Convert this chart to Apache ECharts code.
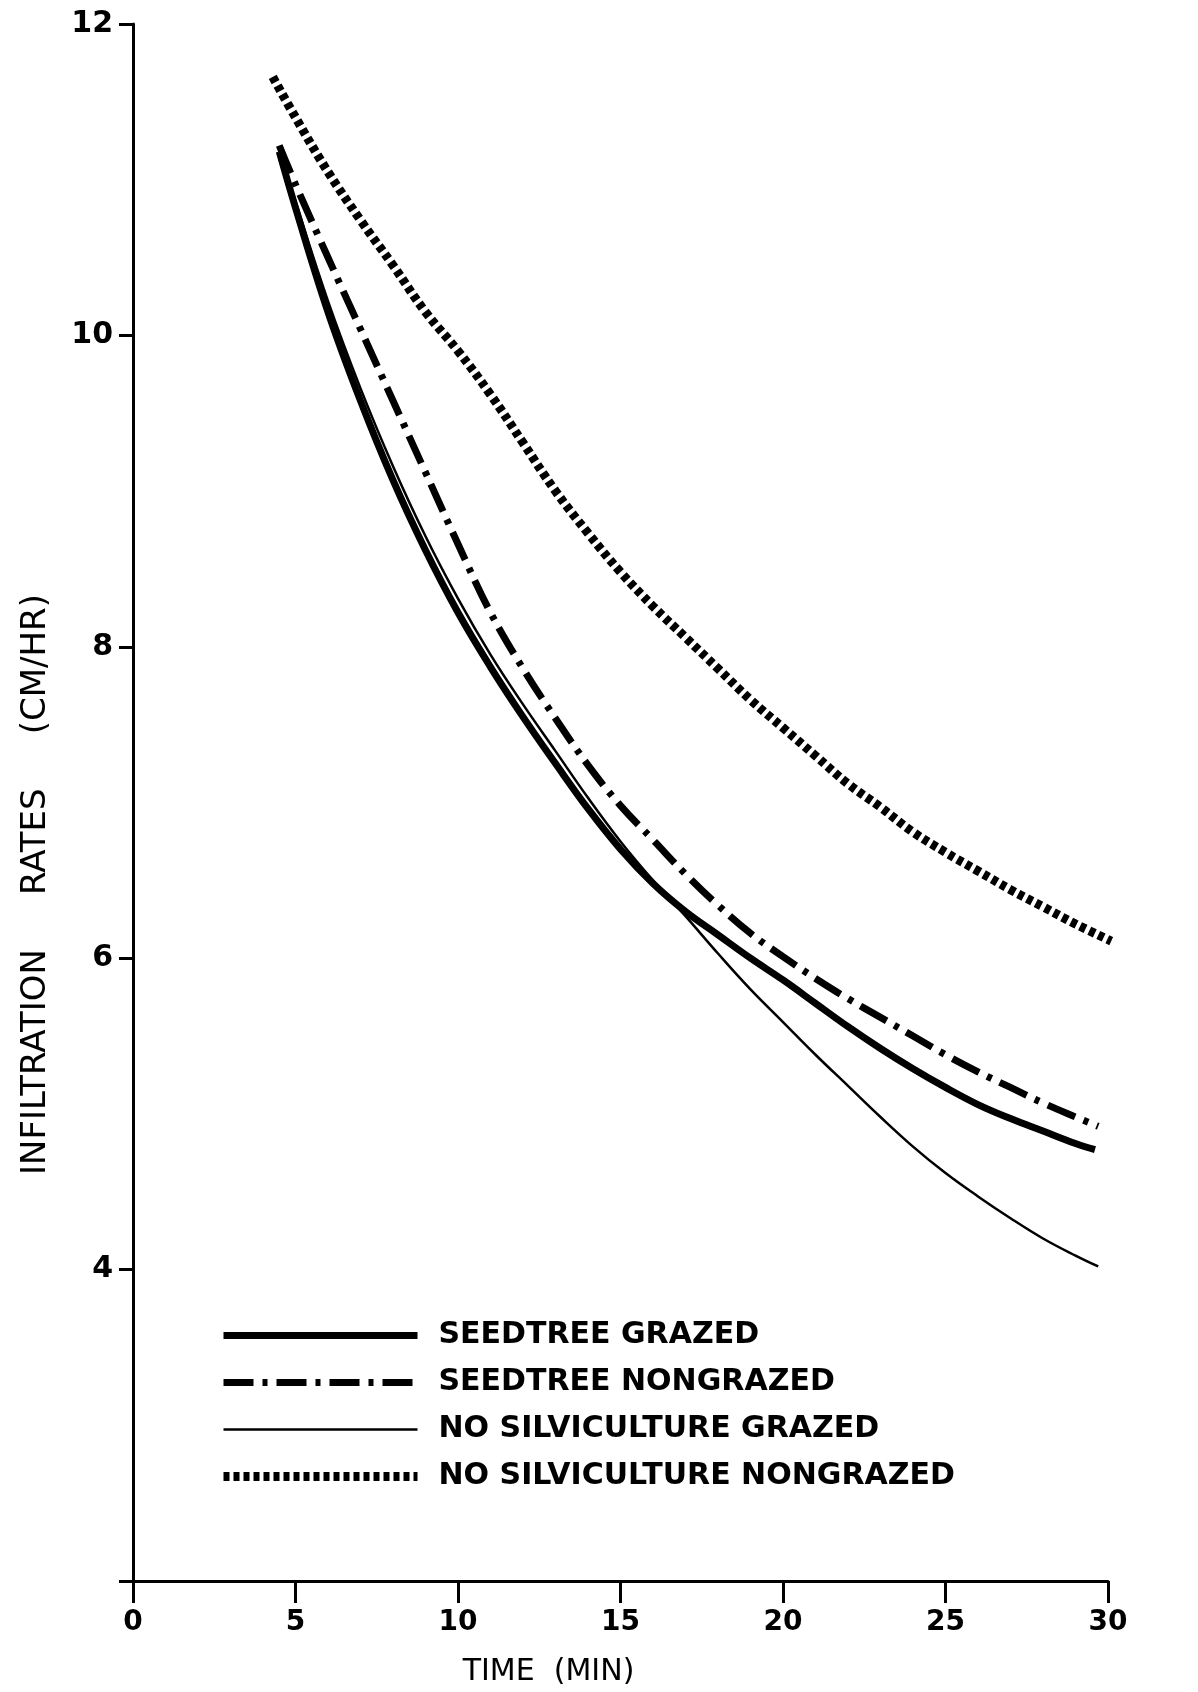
<!DOCTYPE html>
<html>
<head>
<meta charset="utf-8">
<script src="https://cdn.jsdelivr.net/npm/echarts@6/dist/echarts.min.js"></script>
<style>
  html, body { margin: 0; padding: 0; background: #fff; }
  #chart { width: 1198px; height: 1692px; }
</style>
</head>
<body>
<div id="chart"></div>
<script>
// Series names (legend order)
const seriesNames = [
  'SEEDTREE GRAZED',
  'SEEDTREE NONGRAZED',
  'NO SILVICULTURE GRAZED',
  'NO SILVICULTURE NONGRAZED'
];

// Time (min) values for each curve
const xSeedGrazed    = [4.5, 5, 6, 7, 8, 9, 10, 11, 12, 13, 14, 15, 16, 17, 18, 19, 20, 21, 22, 23, 24, 25, 26, 27, 28, 29, 29.6];
const xSeedNongrazed = [4.5, 5, 6, 7, 8, 9, 10, 11, 12, 13, 14, 15, 16, 17, 18, 19, 20, 21, 22, 23, 24, 25, 26, 27, 28, 29, 29.7];
const xNoSilvGrazed  = [4.5, 5, 6, 7, 8, 9, 10, 11, 12, 13, 14, 15, 16, 17, 18, 19, 20, 21, 22, 23, 24, 25, 26, 27, 28, 29, 29.7];
const xNoSilvNongrazed = [4.3, 5, 6, 7, 8, 9, 10, 11, 12, 13, 14, 15, 16, 17, 18, 19, 20, 21, 22, 23, 24, 25, 26, 27, 28, 29, 30.1];

// Infiltration rates (cm/hr)
const ySeedGrazed    = [11.18, 10.82, 10.15, 9.58, 9.07, 8.62, 8.22, 7.87, 7.55, 7.25, 6.96, 6.70, 6.48, 6.30, 6.15, 6.00, 5.86, 5.71, 5.56, 5.42, 5.29, 5.17, 5.06, 4.97, 4.89, 4.81, 4.77];
const ySeedNongrazed = [11.22, 10.97, 10.50, 10.04, 9.58, 9.12, 8.66, 8.22, 7.86, 7.54, 7.24, 6.98, 6.76, 6.54, 6.34, 6.16, 6.01, 5.87, 5.74, 5.62, 5.50, 5.38, 5.27, 5.17, 5.07, 4.98, 4.92];
const yNoSilvGrazed  = [11.20, 10.86, 10.22, 9.66, 9.16, 8.71, 8.31, 7.95, 7.63, 7.33, 7.03, 6.75, 6.50, 6.27, 6.03, 5.80, 5.59, 5.38, 5.18, 4.98, 4.79, 4.62, 4.47, 4.33, 4.20, 4.09, 4.02];
const yNoSilvNongrazed = [11.66, 11.40, 11.05, 10.74, 10.45, 10.15, 9.90, 9.62, 9.31, 9.00, 8.73, 8.48, 8.26, 8.06, 7.86, 7.66, 7.48, 7.30, 7.12, 6.97, 6.81, 6.68, 6.56, 6.44, 6.33, 6.22, 6.11];

// Tick labels shown on the axes
const xTickLabels = [0, 5, 10, 15, 20, 25, 30];
const yTickLabels = [4, 6, 8, 10, 12];

function pairs(xs, ys) { return xs.map((x, i) => [x, ys[i]]); }

const FONT = '"DejaVu Sans", "Liberation Sans", sans-serif';

const lineStyles = [
  { color: '#000', width: 7, type: 'solid', cap: 'butt' },
  { color: '#000', width: 7, type: [30, 9, 5, 9], cap: 'butt' },
  { color: '#000', width: 2.5, type: 'solid' },
  { color: '#000', width: 9, type: [6, 4], cap: 'butt' }
];

const chart = echarts.init(document.getElementById('chart'), null, { renderer: 'canvas' });

const option = {
  backgroundColor: '#ffffff',
  animation: false,
  grid: { left: 133, right: 90, top: 24, bottom: 110, containLabel: false },
  xAxis: {
    type: 'value',
    min: 0, max: 30, interval: 5,
    name: 'TIME  (MIN)',
    nameLocation: 'middle',
    nameGap: 76,
    nameTextStyle: { color: '#000', fontFamily: FONT, fontSize: 30, padding: [0, 144, 0, 0] },
    axisLine: { show: true, onZero: false, lineStyle: { color: '#000', width: 3 } },
    axisTick: { show: true, inside: false, length: 22, lineStyle: { color: '#000', width: 3 } },
    axisLabel: {
      color: '#000', fontFamily: FONT, fontSize: 28, fontWeight: 'bold', margin: 28,
      formatter: v => xTickLabels.indexOf(v) >= 0 ? String(v) : ''
    },
    splitLine: { show: false }
  },
  yAxis: {
    type: 'value',
    min: 2, max: 12, interval: 2,
    name: 'INFILTRATION     RATES     (CM/HR)',
    nameLocation: 'middle',
    nameGap: 80,
    nameTextStyle: { color: '#000', fontFamily: FONT, fontSize: 34, padding: [0, 164, 0, 0] },
    axisLine: { show: true, onZero: false, lineStyle: { color: '#000', width: 3 } },
    axisTick: { show: true, inside: false, length: 14, lineStyle: { color: '#000', width: 3 } },
    axisLabel: {
      color: '#000', fontFamily: FONT, fontSize: 30, fontWeight: 'bold', margin: 20,
      formatter: v => yTickLabels.indexOf(v) >= 0 ? String(v) : ''
    },
    splitLine: { show: false }
  },
  legend: {
    orient: 'vertical',
    left: 214,
    top: 1315,
    itemWidth: 194,
    itemHeight: 14,
    itemGap: 16,
    data: seriesNames.map((n, i) => ({
      name: n,
      itemStyle: { opacity: 0 },
      lineStyle: lineStyles[i]
    })),
    textStyle: { color: '#000', fontFamily: FONT, fontSize: 30, fontWeight: 'bold', lineHeight: 31, padding: [0, 0, 0, 16] },
    selectedMode: false
  },
  series: [
    {
      name: seriesNames[0], type: 'line', smooth: 0.4, symbol: 'none', z: 3,
      itemStyle: { color: '#000' }, lineStyle: lineStyles[0],
      data: pairs(xSeedGrazed, ySeedGrazed)
    },
    {
      name: seriesNames[1], type: 'line', smooth: 0.4, symbol: 'none', z: 4,
      itemStyle: { color: '#000' }, lineStyle: lineStyles[1],
      data: pairs(xSeedNongrazed, ySeedNongrazed)
    },
    {
      name: seriesNames[2], type: 'line', smooth: 0.4, symbol: 'none', z: 5,
      itemStyle: { color: '#000' }, lineStyle: lineStyles[2],
      data: pairs(xNoSilvGrazed, yNoSilvGrazed)
    },
    {
      name: seriesNames[3], type: 'line', smooth: 0.4, symbol: 'none', z: 2,
      itemStyle: { color: '#000' }, lineStyle: lineStyles[3],
      data: pairs(xNoSilvNongrazed, yNoSilvNongrazed)
    }
  ]
};

chart.setOption(option);
</script>
</body>
</html>
